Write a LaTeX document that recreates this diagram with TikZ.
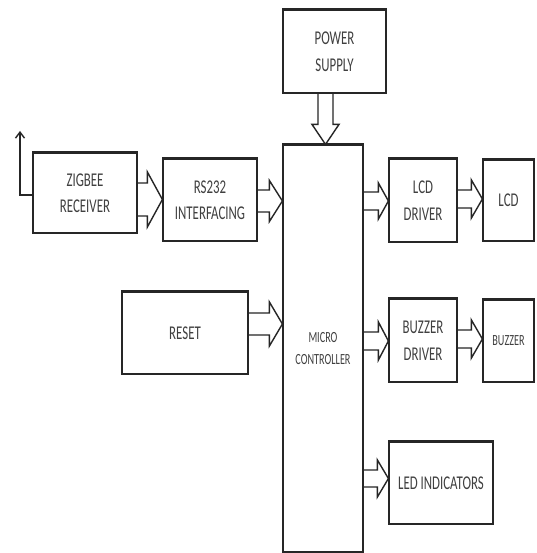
\documentclass[tikz,border=0pt]{standalone}
\usepackage{fontspec}
\newfontfamily\lab[FakeStretch=0.66]{Carlito}
\usetikzlibrary{arrows.meta}
\tikzset{
 box/.style={draw=black!85, line width=1.2pt, inner sep=0pt, align=center, font=\lab\fontsize{19.5}{26.5}\selectfont, text=black!75},
 smalltext/.style={font=\lab\fontsize{15.5}{22}\selectfont},
 fat/.style={draw=black!85, line width=1.4pt, line join=miter},
 ant/.style={draw=black!85, line width=1.4pt, -{Straight Barb[length=6pt,width=9pt]}},
 topedge/.style={draw=black!85, line width=2.2pt},
}
% right-pointing block arrow: from, to, centre y, shaft half, head half, head length
\newcommand\fatR[6]{%
 \coordinate (fs) at (#1.east |- 0,#3);
 \coordinate (ft) at (#2.west |- 0,#3);
 \draw[fat] ([yshift=#4pt]fs) -- ([xshift=-#6pt,yshift=#4pt]ft) -- ([xshift=-#6pt,yshift=#5pt]ft) -- (ft) -- ([xshift=-#6pt,yshift=-#5pt]ft) -- ([xshift=-#6pt,yshift=-#4pt]ft) -- ([yshift=-#4pt]fs);}
% downward block arrow: from, to, centre x, shaft half, head half, head length
\newcommand\fatD[6]{%
 \coordinate (fs) at (#1.south -| #3,0);
 \coordinate (ft) at (#2.north -| #3,0);
 \draw[fat] ([xshift=-#4pt]fs) -- ([xshift=-#4pt,yshift=#6pt]ft) -- ([xshift=-#5pt,yshift=#6pt]ft) -- (ft) -- ([xshift=#5pt,yshift=#6pt]ft) -- ([xshift=#4pt,yshift=#6pt]ft) -- ([xshift=#4pt]fs);}
\begin{document}
\begin{tikzpicture}[x=1pt,y=-1pt]
\useasboundingbox[fill=white] (0,0) rectangle (536,553);
\node[box, minimum width=103pt, minimum height=83pt] (pow) at (334.5,51.5) {POWER\\SUPPLY};
\node[box, minimum width=104pt, minimum height=80pt] (zig) at (85,193) {ZIGBEE\\RECEIVER};
\node[box, minimum width=94pt, minimum height=82pt] (rs) at (210,200) {RS232\\INTERFACING};
\node[box, smalltext, minimum width=80pt, minimum height=407pt] (mc) at (323,348.5) {MICRO\\CONTROLLER};
\node[box, minimum width=68pt, minimum height=83pt] (lcdd) at (423,200.5) {LCD\\DRIVER};
\node[box, minimum width=51pt, minimum height=81pt] (lcd) at (508.5,200.5) {LCD};
\node[box, minimum width=68pt, minimum height=83pt] (buzd) at (423,340.5) {BUZZER\\DRIVER};
\node[box, smalltext, minimum width=51pt, minimum height=82pt] (buz) at (508.5,341) {BUZZER};
\node[box, minimum width=126pt, minimum height=82pt] (rst) at (185,333) {RESET};
\node[box, minimum width=104pt, minimum height=82pt] (led) at (441,483) {LED INDICATORS};
\foreach \n in {pow,zig,rs,mc,lcdd,lcd,buzd,buz,rst,led}
  \draw[topedge] (\n.north west) -- (\n.north east);
% antenna
\coordinate (anttip) at (20,131);
\draw[ant] (zig.west |- 0,195) -| (anttip);
% block arrows
\fatR{zig}{rs}{199.5}{16.5}{27.5}{15}
\fatR{rs}{mc}{201}{11}{20.5}{13}
\fatR{mc}{lcdd}{201}{9}{18}{10}
\fatR{lcdd}{lcd}{199}{9}{19}{11}
\fatR{mc}{buzd}{341}{9}{19}{10}
\fatR{buzd}{buz}{339}{9}{19}{11}
\fatR{rst}{mc}{324}{11}{22}{13}
\fatR{mc}{led}{478.5}{8.5}{18.5}{11}
\fatD{pow}{mc}{325.5}{7.5}{13.5}{20}
\end{tikzpicture}
\end{document}
